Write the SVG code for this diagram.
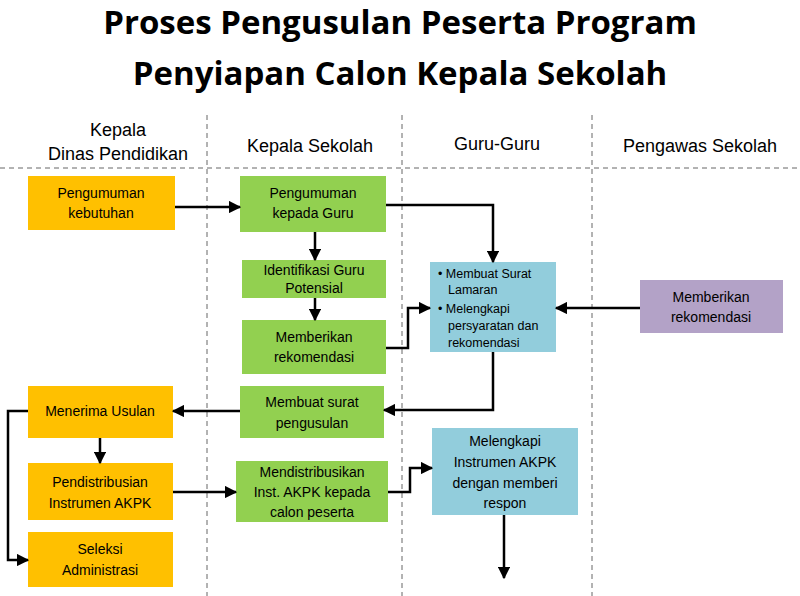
<svg xmlns="http://www.w3.org/2000/svg" width="800" height="596" viewBox="0 0 800 596">
<defs>
<marker id="ah" viewBox="0 0 10 10" refX="9" refY="5" markerWidth="5" markerHeight="5" orient="auto"><path d="M0,0 L10,5 L0,10 z" fill="#000"/></marker>
<style>
.t{font-family:"Liberation Sans",Arial,sans-serif;font-size:14px;fill:#000;text-anchor:middle}
.h{font-family:"Liberation Sans",Arial,sans-serif;font-size:18px;fill:#000;text-anchor:middle}
.ti{font-family:"Open Sans","Liberation Sans",sans-serif;font-size:33px;font-weight:bold;fill:#000;text-anchor:middle}
.o{fill:#FFC000}.g{fill:#92D050}.b{fill:#92CDDC}.p{fill:#B3A2C7}
.d{stroke:#666;stroke-width:1;stroke-dasharray:5,4;fill:none}
.c{stroke:#000;stroke-width:2.5;fill:none;marker-end:url(#ah)}
</style>
</defs>
<rect width="800" height="596" fill="#fff"/>
<text class="ti" x="400" y="34">Proses Pengusulan Peserta Program</text>
<text class="ti" x="400" y="85">Penyiapan Calon Kepala Sekolah</text>
<g id="lanes">
<line class="d" x1="207" y1="115" x2="207" y2="596"/>
<line class="d" x1="402" y1="115" x2="402" y2="596"/>
<line class="d" x1="592" y1="115" x2="592" y2="596"/>
<line class="d" x1="0" y1="168" x2="800" y2="168"/>
<text class="h" x="118" y="136">Kepala</text>
<text class="h" x="118" y="160">Dinas Pendidikan</text>
<text class="h" x="310" y="152">Kepala Sekolah</text>
<text class="h" x="497" y="150">Guru-Guru</text>
<text class="h" x="700" y="152">Pengawas Sekolah</text>
</g>
<g id="n1"><rect class="o" x="28" y="176" width="147" height="54"/><text class="t" x="101" y="198">Pengumuman</text><text class="t" x="101" y="218">kebutuhan</text></g>
<g id="n2"><rect class="g" x="240" y="176" width="146" height="56"/><text class="t" x="313" y="198">Pengumuman</text><text class="t" x="313" y="218">kepada Guru</text></g>
<g id="n3"><rect class="g" x="242" y="260" width="144" height="38"/><text class="t" x="314" y="275">Identifikasi Guru</text><text class="t" x="314" y="293">Potensial</text></g>
<g id="n4"><rect class="g" x="242" y="320" width="144" height="54"/><text class="t" x="314" y="342">Memberikan</text><text class="t" x="314" y="362">rekomendasi</text></g>
<g id="n5"><rect class="b" x="430" y="262" width="126" height="90"/>
<text class="t" style="text-anchor:start;font-size:12.5px" x="438" y="278">• Membuat   Surat</text>
<text class="t" style="text-anchor:start;font-size:12.5px" x="448" y="294">Lamaran</text>
<text class="t" style="text-anchor:start;font-size:12.5px" x="438" y="313">• Melengkapi</text>
<text class="t" style="text-anchor:start;font-size:12.5px" x="448" y="330">persyaratan  dan</text>
<text class="t" style="text-anchor:start;font-size:12.5px" x="448" y="347">rekomendasi</text></g>
<g id="n6"><rect class="p" x="640" y="280" width="143" height="53"/><text class="t" x="711" y="302">Memberikan</text><text class="t" x="711" y="322">rekomendasi</text></g>
<g id="n7"><rect class="g" x="240" y="386" width="144" height="52"/><text class="t" x="312" y="407">Membuat surat</text><text class="t" x="312" y="428">pengusulan</text></g>
<g id="n8"><rect class="o" x="28" y="386" width="145" height="52"/><text class="t" x="100" y="416">Menerima Usulan</text></g>
<g id="n9"><rect class="o" x="28" y="463" width="145" height="57"/><text class="t" x="100" y="487">Pendistribusian</text><text class="t" x="100" y="508">Instrumen AKPK</text></g>
<g id="n10"><rect class="g" x="236" y="461" width="152" height="61"/><text class="t" x="312" y="477">Mendistribusikan</text><text class="t" x="312" y="497">Inst.  AKPK kepada</text><text class="t" x="312" y="517">calon peserta</text></g>
<g id="n11"><rect class="b" x="432" y="428" width="146" height="87"/><text class="t" x="505" y="446">Melengkapi</text><text class="t" x="505" y="467">Instrumen  AKPK</text><text class="t" x="505" y="488">dengan memberi</text><text class="t" x="505" y="508">respon</text></g>
<g id="n12"><rect class="o" x="28" y="532" width="145" height="55"/><text class="t" x="100" y="554">Seleksi</text><text class="t" x="100" y="575">Administrasi</text></g>
<g id="connectors">
<path class="c" d="M175,207 H240"/>
<path class="c" d="M386,205 H493 V262"/>
<path class="c" d="M315,232 V260"/>
<path class="c" d="M315,298 V320"/>
<path class="c" d="M386,348 H408 V308 H430"/>
<path class="c" d="M640,308 H556"/>
<path class="c" d="M493,352 V410 H384"/>
<path class="c" d="M240,411 H173"/>
<path class="c" d="M100,438 V463"/>
<path class="c" d="M28,411 H8 V560 H28"/>
<path class="c" d="M173,492 H236"/>
<path class="c" d="M388,492 H410 V468 H432"/>
<path class="c" d="M504,515 V578"/>
</g>
</svg>
